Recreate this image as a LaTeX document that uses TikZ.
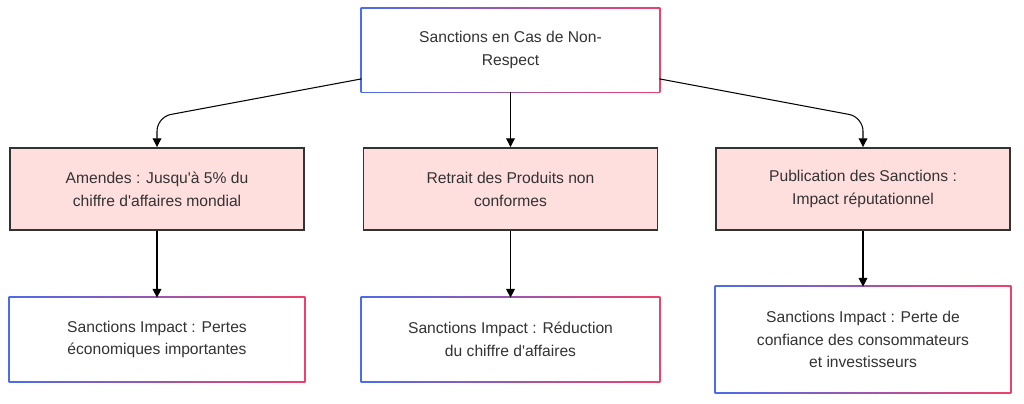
\documentclass[tikz,border=0pt]{standalone}
\usepackage{fontspec}
\setmainfont{Liberation Sans}
\usetikzlibrary{positioning,arrows.meta,calc,backgrounds}
\definecolor{txt}{HTML}{333333}
\definecolor{pinkfill}{HTML}{FFDEDE}
\definecolor{gblue}{HTML}{4A6CF0}
\definecolor{gred}{HTML}{F0406A}
\tikzset{
  gradbox/.style={fill=white, minimum width=297*0.02cm, minimum height=83*0.02cm, align=center, text=txt, font=\fontsize{8.9}{13}\selectfont},
  redbox/.style={draw=txt, line width=1.1pt, fill=pinkfill, minimum width=294*0.02cm, minimum height=82*0.02cm, align=center, text=txt, font=\fontsize{8.9}{13}\selectfont},
  arr/.style={-{Triangle[length=5pt,width=5pt]}, draw=black, line width=0.6pt}
}
\newcommand{\gradframe}[1]{\shade[left color=gblue, right color=gred] ($(#1.south west)+(-1,1)$) rectangle ($(#1.north east)+(1,-1)$);}
\begin{document}
\begin{tikzpicture}[x=0.02cm,y=-0.02cm]
\useasboundingbox (0,0) rectangle (1024,403);
% top
\node[gradbox] (top) at (510.5,50) {Sanctions en Cas de Non-\\Respect};
% middle row
\node[redbox] (amende) at (157,189) {Amendes : Jusqu\textquotesingle à 5\% du\\chiffre d\textquotesingle affaires mondial};
\node[redbox] (retrait) at (510.5,189) {Retrait des Produits non\\conformes};
\node[redbox] (publi) at (863,189) {Publication des Sanctions :\\Impact réputationnel};
% bottom row
\node[gradbox, minimum width=294*0.02cm] (pertes) at (157,339.5) {Sanctions Impact : Pertes\\économiques importantes};
\node[gradbox] (reduc) at (510.5,339.5) {Sanctions Impact : Réduction\\du chiffre d\textquotesingle affaires};
\node[gradbox, minimum width=294*0.02cm, minimum height=105*0.02cm] (confiance) at (863,339.5) {Sanctions Impact : Perte de\\confiance des consommateurs\\et investisseurs};
\begin{scope}[on background layer]
\gradframe{top}
\gradframe{pertes}
\gradframe{reduc}
\gradframe{confiance}
\end{scope}
% connectors
\draw[arr, rounded corners=8] ($(top.south west)+(0,-13)$) -- ($(amende.north)+(0,-30)$) -- (amende.north);
\draw[arr] (top) -- (retrait);
\draw[arr, rounded corners=8] ($(top.south east)+(0,-13)$) -- ($(publi.north)+(0,-30)$) -- (publi.north);
\draw[arr] (amende) -- (pertes);
\draw[arr] (retrait) -- (reduc);
\draw[arr] (publi) -- (confiance);
\end{tikzpicture}
\end{document}
